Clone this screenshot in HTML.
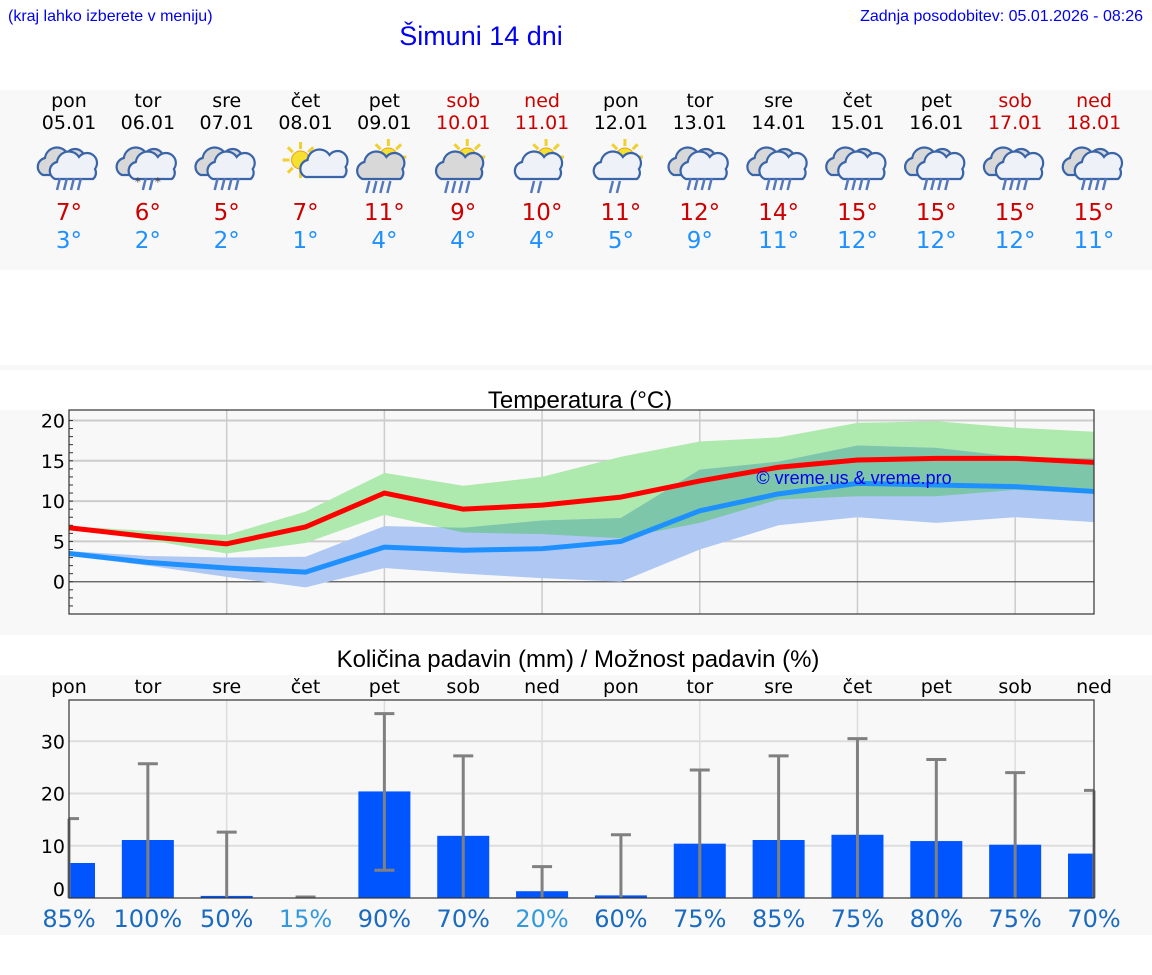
<!DOCTYPE html>
<html><head><meta charset="utf-8"><style>
body{margin:0;background:#fff;font-family:"Liberation Sans",sans-serif}
svg{display:block}
text{font-family:"DejaVu Sans","Liberation Sans",sans-serif}
.lib{font-family:"Liberation Sans",sans-serif}
</style></head><body>
<svg id="s" width="1152" height="975" xmlns="http://www.w3.org/2000/svg">
<text class="lib" x="8" y="21" font-size="16" fill="#0000ee">(kraj lahko izberete v meniju)</text>
<text class="lib" x="481" y="45" font-size="27" fill="#0000ee" text-anchor="middle">Šimuni 14 dni</text>
<text class="lib" x="1143" y="21" font-size="16" fill="#0000ee" text-anchor="end">Zadnja posodobitev: 05.01.2026 - 08:26</text>
<rect x="0" y="90" width="1152" height="180" fill="#f8f8f8"/>
<rect x="0" y="365" width="1152" height="5" fill="#f8f8f8"/>
<rect x="0" y="410" width="1152" height="225" fill="#f8f8f8"/>
<rect x="0" y="675" width="1152" height="260" fill="#f8f8f8"/>
<text class="lib" x="580" y="408" font-size="24" text-anchor="middle">Temperatura (°C)</text>
<text class="lib" x="578" y="667" font-size="24" text-anchor="middle">Količina padavin (mm) / Možnost padavin (%)</text>
<g id="days"></g>
<g id="temp"></g>
<g id="prec"></g>
</svg>
<script>
const dayNames=["pon","tor","sre","čet","pet","sob","ned","pon","tor","sre","čet","pet","sob","ned"];
const dates=["05.01","06.01","07.01","08.01","09.01","10.01","11.01","12.01","13.01","14.01","15.01","16.01","17.01","18.01"];
const iconTypes=["rain","snowrain","rain","suncloud","sunrain","sunrain","sunrain2","sunrain2","rain","rain","rain","rain","rain","rain"];
const maxT=[7,6,5,7,11,9,10,11,12,14,15,15,15,15];
const minT=[3,2,2,1,4,4,4,5,9,11,12,12,12,11];
const tMaxLine=[6.7,5.6,4.7,6.8,11,9,9.5,10.5,12.5,14.2,15.1,15.3,15.3,14.8];
const tMinLine=[3.5,2.4,1.7,1.2,4.3,3.9,4.1,5,8.8,10.9,12.2,12,11.8,11.2];
const maxBandHi=[6.9,6.3,5.8,8.7,13.5,11.9,13,15.5,17.4,17.9,19.7,19.9,19.1,18.6];
const maxBandLo=[6.5,5.2,3.5,4.8,8.3,6.1,5.9,5.4,7.3,10.2,10.6,10.6,11.4,10.9];
const minBandHi=[3.8,3.2,3,3.1,6.9,6.7,7.6,7.9,13.9,14.9,16.9,16.6,15.5,15.3];
const minBandLo=[3.2,2,0.6,-0.7,1.7,1,0.45,0,4,7,8,7.3,8,7.4];
const tTicks=[0,5,10,15,20];
const precip=[6.7,11.1,0.4,0,20.4,11.9,1.3,0.5,10.4,11.1,12.1,10.9,10.2,8.5];
const errHi=[15.2,25.7,12.6,0.2,35.3,27.2,6,12.1,24.5,27.2,30.5,26.5,24,20.6];
const errLo=[0,0,0,0,5.3,0,0,0,0,0,0,0,0,0];
const chance=[85,100,50,15,90,70,20,60,75,85,75,80,75,70];
const pTicks=[0,10,20,30];
const weekend=[false,false,false,false,false,true,true,false,false,false,false,false,true,true];

const NS="http://www.w3.org/2000/svg";
function mk(p,tag,a,txt){const e=document.createElementNS(NS,tag);for(const k in a)e.setAttribute(k,a[k]);if(txt!==undefined)e.textContent=txt;p.appendChild(e);return e;}
const X0=69,X1=1094,N=14;
const xd=i=>X0+i*(X1-X0)/(N-1);

const gd=document.getElementById('days');
function cloud(g,x,y,s,fill){
  return mk(g,'path',{d:`M${x-20*s},${y+10*s} a9,9 0 0 1 2,-17 a12,12 0 0 1 22,-5 a10,10 0 0 1 16,12 a8,8 0 0 1 -2,10 z`,fill:fill,stroke:'#3a64a8','stroke-width':2.2});
}
function sun(g,x,y,r){
  for(let k=0;k<8;k++){const a=k*Math.PI/4;mk(g,'line',{x1:x+Math.cos(a)*(r+2),y1:y+Math.sin(a)*(r+2),x2:x+Math.cos(a)*(r+9),y2:y+Math.sin(a)*(r+9),stroke:'#f0d030','stroke-width':3});}
  mk(g,'circle',{cx:x,cy:y,r:r,fill:'#f5e030',stroke:'#e8a020','stroke-width':1});
}
function rain(g,x,y,n){
  for(let k=0;k<n;k++){const xx=x+(k-(n-1)/2)*7;mk(g,'line',{x1:xx+1.5,y1:y,x2:xx-1.5,y2:y+12,stroke:'#5577bb','stroke-width':2.5});}
}
for(let i=0;i<N;i++){
  const x=xd(i);
  const col=weekend[i]?'#cc0000':'#000';
  const t1=mk(gd,'text',{x:x,y:107,'font-size':19,'text-anchor':'middle',fill:col},dayNames[i]);
  
  
  const t2=mk(gd,'text',{x:x,y:129,'font-size':19,'text-anchor':'middle',fill:col},dates[i]);
  
  
  const ic=mk(gd,'g',{});
  
  
  const t=iconTypes[i];
  if(t==='rain'||t==='snowrain'){
    cloud(ic,x-6,165,1,'#d8d8d8');
    cloud(ic,x+6,169,1,'#eef2f8');
    if(t==='rain')rain(ic,x,178,4);else{rain(ic,x,178,2);mk(ic,'text',{x:x-10,y:186,'font-size':12,'text-anchor':'middle',fill:'#444'},'*');mk(ic,'text',{x:x+10,y:186,'font-size':12,'text-anchor':'middle',fill:'#444'},'*');}
  }else if(t==='suncloud'){
    sun(ic,x-5,160,9);cloud(ic,x+14,170,0.7,'#eef2f8');
  }else{
    sun(ic,x+4,157,9);
    cloud(ic,x-6,171,0.8,t==='sunrain'?'#d8d8d8':'#eef2f8');
    rain(ic,x-6,181,t==='sunrain'?4:2);
  }
  const a=mk(gd,'text',{x:x,y:220,'font-size':23,'text-anchor':'middle',fill:'#cc0000'},maxT[i]+'°');
  
  
  const b=mk(gd,'text',{x:x,y:248,'font-size':23,'text-anchor':'middle',fill:'#1e90ff'},minT[i]+'°');
  
  
}

const gt=document.getElementById('temp');
const TY0=410,TY1=614,TMAX=21.3,TMIN=-4;
const ty=v=>TY0+(TMAX-v)/(TMAX-TMIN)*(TY1-TY0);
mk(gt,'rect',{x:X0,y:TY0,width:X1-X0,height:TY1-TY0,fill:'#f8f8f8'});
for(let i=2;i<N;i+=2){const l=mk(gt,'line',{x1:xd(i),y1:TY0,x2:xd(i),y2:TY1,stroke:'#ccc','stroke-width':1.5});}
tTicks.forEach(v=>{
  const l=mk(gt,'line',{x1:X0,y1:ty(v),x2:X1,y2:ty(v),stroke:v===0?'#555':'#ccc','stroke-width':v===0?1.2:2});
  
  
  const t=mk(gt,'text',{x:X0-4,y:ty(v)+7,'font-size':19,'text-anchor':'end'},v);
  
  
});
for(let v=Math.ceil(TMIN);v<=20;v++)mk(gt,'line',{x1:X0,y1:ty(v),x2:X0+4,y2:ty(v),stroke:'#333','stroke-width':1});
function bandPath(hi,lo){return 'M'+hi.map((v,i)=>xd(i)+','+ty(v)).join(' L')+' L'+lo.map((v,i)=>xd(i)+','+ty(v)).reverse().join(' L')+'Z';}
const defs=mk(gt,'defs',{});
const cp=mk(defs,'clipPath',{id:'blueclip'});
mk(cp,'path',{d:bandPath(minBandHi,minBandLo)});
const bg=mk(gt,'path',{d:bandPath(maxBandHi,maxBandLo),fill:'#aee9ad'});


const bb=mk(gt,'path',{d:bandPath(minBandHi,minBandLo),fill:'#afc7f3'});


const ov=mk(gt,'path',{d:bandPath(maxBandHi,maxBandLo),fill:'#7ec6a9','clip-path':'url(#blueclip)'});


function line(vals,col,name){
  const p=mk(gt,'polyline',{points:vals.map((v,i)=>xd(i)+','+ty(v)).join(' '),fill:'none',stroke:col,'stroke-width':5,'stroke-linejoin':'round'});
  
  
}
line(tMinLine,'#1e90ff','min-temp-line');
line(tMaxLine,'#ff0000','max-temp-line');
mk(gt,'text',{x:854,y:484,'font-size':18,'text-anchor':'middle',fill:'#0000ee',class:'lib'},'© vreme.us & vreme.pro');
mk(gt,'rect',{x:X0,y:TY0,width:X1-X0,height:TY1-TY0,fill:'none',stroke:'#333','stroke-width':1.2});

const gp=document.getElementById('prec');
const PY0=700,PY1=898,PMAX=37.9;
const py=v=>PY1-v/PMAX*(PY1-PY0);
for(let i=2;i<N;i+=2){const l=mk(gp,'line',{x1:xd(i),y1:PY0,x2:xd(i),y2:PY1,stroke:'#ddd','stroke-width':1.5});}
pTicks.forEach(v=>{
  if(v>0){const l=mk(gp,'line',{x1:X0,y1:py(v),x2:X1,y2:py(v),stroke:'#ddd','stroke-width':2});}
  const t=mk(gp,'text',{x:X0-4,y:(v===0?py(v)-9:py(v))+7,'font-size':19,'text-anchor':'end'},v);
  
  
});
const BW=52;
for(let i=0;i<N;i++){
  const x=xd(i);
  const l=Math.max(X0,x-BW/2),r=Math.min(X1,x+BW/2);
  const h=Math.max(PY1-py(precip[i]),precip[i]>0?2:0);
  const b=mk(gp,'rect',{x:l,y:PY1-h,width:r-l,height:h,fill:'#0055ff'});
  
  
  const e=mk(gp,'g',{stroke:'#808080','stroke-width':3});
  
  
  mk(e,'line',{x1:x,y1:py(errHi[i]),x2:x,y2:py(errLo[i])});
  mk(e,'line',{x1:Math.max(X0,x-10),y1:py(errHi[i]),x2:Math.min(X1,x+10),y2:py(errHi[i])});
  if(errLo[i]>0)mk(e,'line',{x1:x-10,y1:py(errLo[i]),x2:x+10,y2:py(errLo[i])});
  const d=mk(gp,'text',{x:x,y:693,'font-size':19,'text-anchor':'middle'},dayNames[i]);
  
  
  const c=mk(gp,'text',{x:x,y:927,'font-size':24,'text-anchor':'middle',fill:chance[i]<=20?'#3399dd':'#1a6ac0'},chance[i]+'%');
  
  
}
mk(gp,'rect',{x:X0,y:PY0,width:X1-X0,height:PY1-PY0,fill:'none',stroke:'#333','stroke-width':1.2});
</script>
</body></html>
